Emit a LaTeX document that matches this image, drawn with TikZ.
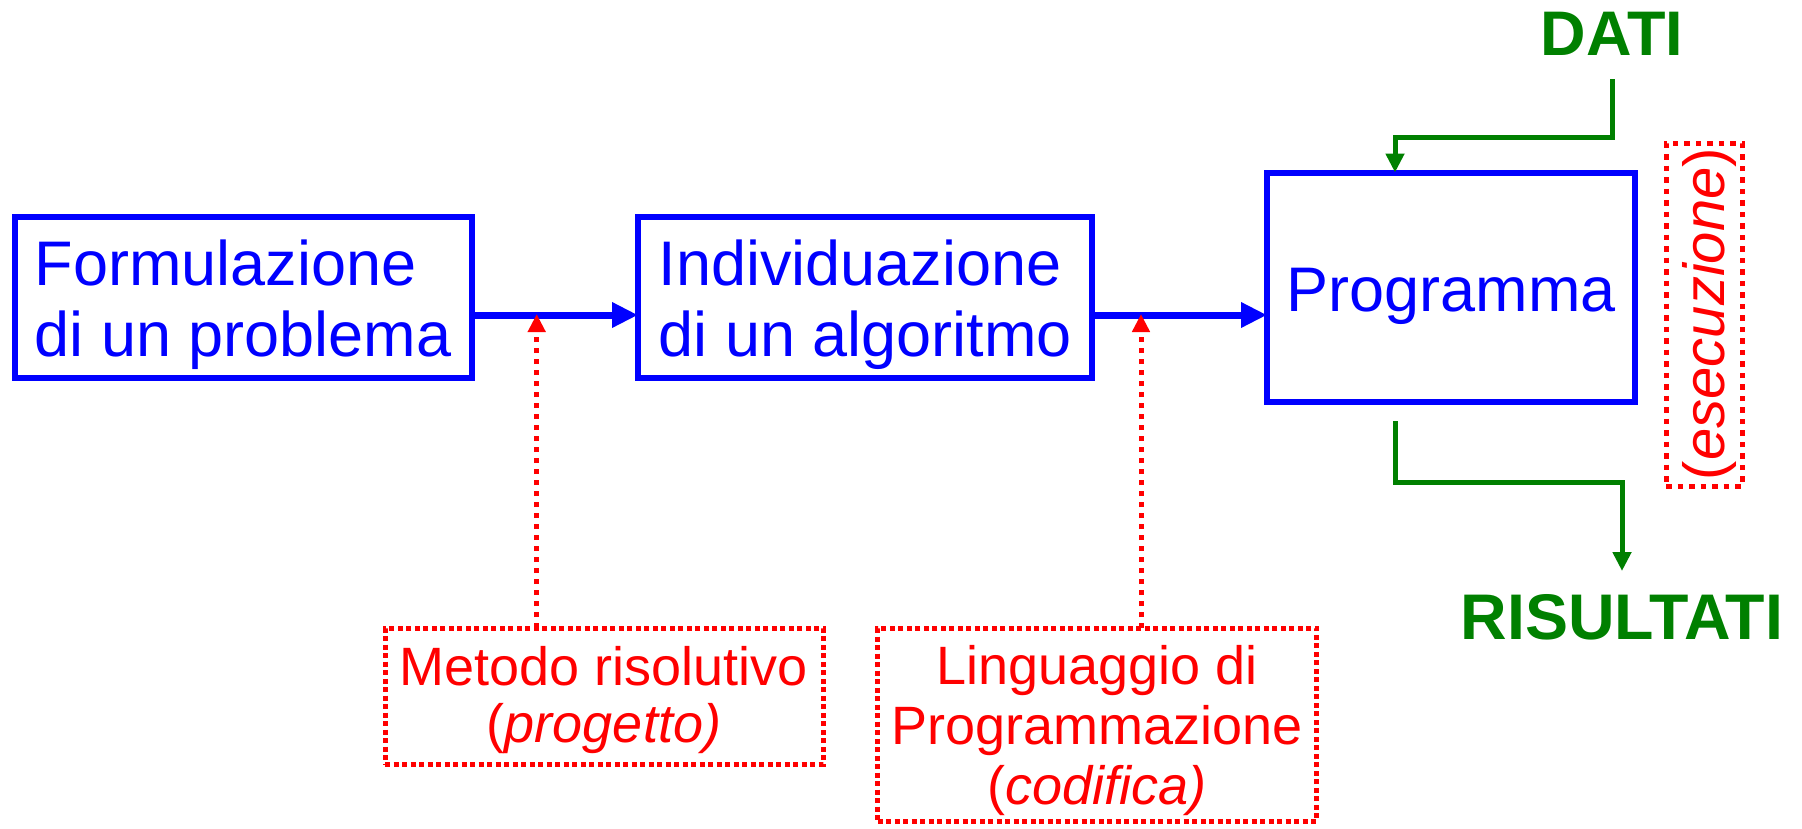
\documentclass[tikz,border=0pt]{standalone}
\usepackage{fontspec}
\setmainfont{Liberation Sans}
\usetikzlibrary{arrows.meta}
\definecolor{cblue}{RGB}{0,0,255}
\definecolor{cgreen}{RGB}{0,128,0}
\definecolor{cred}{RGB}{255,0,0}
\tikzset{
  bluebox/.style={draw=cblue, line width=6pt, inner sep=0pt, outer sep=0pt},
  redbox/.style={draw=cred, line width=5pt, dash pattern=on 5pt off 3.5pt, inner sep=0pt, outer sep=0pt},
  redboxwide/.style={draw=cred, line width=5pt, dash pattern=on 5.5pt off 6pt, inner sep=0pt, outer sep=0pt},
  bluetxt/.style={text=cblue, font=\fontsize{63}{70}\selectfont, inner sep=0pt, anchor=base west},
  redtxt/.style={text=cred, font=\fontsize{54}{58}\selectfont, inner sep=0pt, anchor=base},
  greentxt/.style={text=cgreen, font=\bfseries, inner sep=0pt, anchor=base},
  bluearrow/.style={draw=cblue, line width=7pt, -{Triangle[length=26pt,width=24pt]}},
  redarrow/.style={draw=cred, line width=5pt, dash pattern=on 5pt off 6pt, -{Triangle[length=18pt,width=17pt]}},
  greenarrow/.style={draw=cgreen, line width=5pt, -{Triangle[length=19pt,width=18pt]}}
}
\begin{document}
\begin{tikzpicture}[x=1pt,y=-1pt]
\useasboundingbox (0,0) rectangle (1802,828);
% main boxes
\node[bluebox, minimum width=457pt, minimum height=161pt] (box1) at (243,297.5) {};
\node[bluebox, minimum width=454pt, minimum height=161pt] (box2) at (865,297.5) {};
\node[bluebox, minimum width=368pt, minimum height=229pt] (prog) at (1451,287) {};
\node[bluetxt] (f1) at (34.5,285) {Formulazione};
\node[bluetxt] (f2) at (34.5,356) {di un problema};
\node[bluetxt] (i1) at (658.5,285) {Individuazione};
\node[bluetxt] (i2) at (658.5,356) {di un algoritmo};
\node[bluetxt, anchor=base] (p1) at (1451,311) {Programma};
% red boxes
\node[redbox, minimum width=438pt, minimum height=136pt] (metodo) at (604,696) {};
\node[redtxt] (m1) at (604,685) {Metodo risolutivo};
\node[redtxt] (m2) at (604,742) {(\textit{progetto)}};
\node[redbox, minimum width=439pt, minimum height=193pt] (ling) at (1097,724.5) {};
\node[redtxt] (l1) at (1097,684) {Linguaggio di};
\node[redtxt] (l2) at (1097,744) {Programmazione};
\node[redtxt] (l3) at (1097,804) {(\textit{codifica)}};
\node[redboxwide, minimum width=76pt, minimum height=343pt] (exbox) at (1704,314.5) {};
\node[text=cred, font=\fontsize{58}{62}\selectfont, rotate=90, inner sep=0pt] (ex) at (1709.5,314) {(\textit{esecuzione})};
% green labels
\node[greentxt, font=\fontsize{63}{70}\selectfont\bfseries] (dati) at (1612,55) {DATI};
\node[greentxt, font=\fontsize{64.5}{70}\selectfont\bfseries] (ris) at (1622,639) {RISULTATI};
% blue arrows
\draw[bluearrow] ([yshift=-17.5pt]box1.east) -- ([yshift=-17.5pt]box1.east -| box2.west);
\draw[bluearrow] ([yshift=-17.5pt]box2.east) -- ([yshift=-17.5pt]box2.east -| prog.west);
% red arrows
\coordinate (t1) at (536.7,314);
\coordinate (t2) at (1141,314);
\draw[redarrow] (t1 |- metodo.north) -- (t1);
\draw[redarrow] (t2 |- ling.north) -- (t2);
% green arrows
\coordinate (din) at (1395,137);
\draw[greenarrow] ([yshift=-24pt]dati.south) |- (din) -- (din |- prog.north);
\coordinate (rout) at (1395,421);
\coordinate (rmid) at (1622,482.5);
\coordinate (rend) at (1622,571);
\draw[greenarrow] (rout) |- (rmid) -- (rend);
\end{tikzpicture}
\end{document}
